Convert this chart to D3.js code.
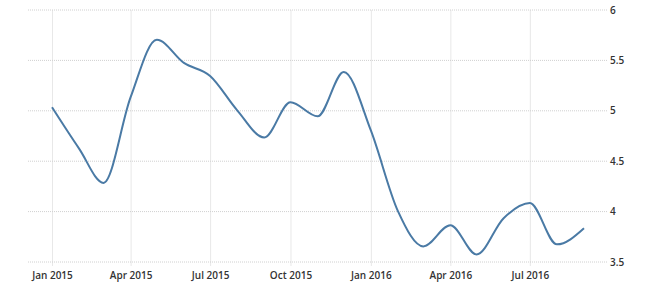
<!DOCTYPE html>
<html>
<head>
<meta charset="utf-8">
<script src="https://cdn.jsdelivr.net/npm/d3@7"></script>
<style>
  body { margin: 0; background: #fff; }
  .tick text { font-family: "Open Sans", sans-serif; font-size: 10px; font-weight: 600; fill: #333; }
</style>
</head>
<body>
<div id="chart"></div>
<script>
const months = ["2015-01","2015-02","2015-03","2015-04","2015-05","2015-06","2015-07","2015-08","2015-09","2015-10","2015-11","2015-12",
                "2016-01","2016-02","2016-03","2016-04","2016-05","2016-06","2016-07","2016-08","2016-09"];
const values = [5.03, 4.62, 4.28, 5.13, 5.70, 5.47, 5.34, 5.00, 4.73, 5.08, 4.94, 5.38,
                4.80, 4.00, 3.65, 3.86, 3.57, 3.93, 4.08, 3.67, 3.83];
const yTicks = [3.5, 4, 4.5, 5, 5.5, 6];
const xTicks = ["2015-01","2015-04","2015-07","2015-10","2016-01","2016-04","2016-07"];

const width = 672, height = 286;
const plot = {left: 27, right: 607, top: 9.5, bottom: 261.5};

const parse = d3.timeParse("%Y-%m");
const data = months.map((m, i) => ({date: parse(m), value: values[i]}));

const svg = d3.select("#chart").append("svg")
    .attr("width", width)
    .attr("height", height);

const xScale = d3.scaleTime()
    .domain([parse("2015-01"), parse("2016-09")])
    .range([52, 584]);
const yScale = d3.scaleLinear()
    .domain([3.5, 6])
    .range([plot.bottom, plot.top]);

// horizontal grid + right labels
const yAxis = svg.append("g")
    .attr("transform", `translate(${plot.right},0)`)
    .call(d3.axisRight(yScale)
        .tickValues(yTicks)
        .tickSize(-(plot.right - plot.left))
        .tickPadding(3)
        .tickFormat(d3.format("")));
yAxis.select(".domain").remove();
yAxis.selectAll("line")
    .attr("stroke", "#d0d0d0")
    .attr("stroke-dasharray", "1,1");
yAxis.selectAll(".tick text").attr("dy", "0.35em");

// vertical grid + bottom labels
const xAxis = svg.append("g")
    .attr("transform", `translate(0,${plot.bottom + 4})`)
    .call(d3.axisBottom(xScale)
        .tickValues(xTicks.map(parse))
        .tickSize(-(plot.bottom + 4 - plot.top))
        .tickPadding(6)
        .tickFormat(d3.timeFormat("%b %Y")));
xAxis.select(".domain").remove();
xAxis.selectAll("line")
    .attr("stroke", "#d0d0d0")
    .attr("stroke-dasharray", "1,1");

// series line
const line = d3.line()
    .x(d => xScale(d.date))
    .y(d => yScale(d.value))
    .curve(d3.curveMonotoneX);

svg.append("path")
    .datum(data)
    .attr("fill", "none")
    .attr("stroke", "#4a7aa5")
    .attr("stroke-width", 2)
    .attr("stroke-linejoin", "round")
    .attr("d", line);
</script>
</body>
</html>
